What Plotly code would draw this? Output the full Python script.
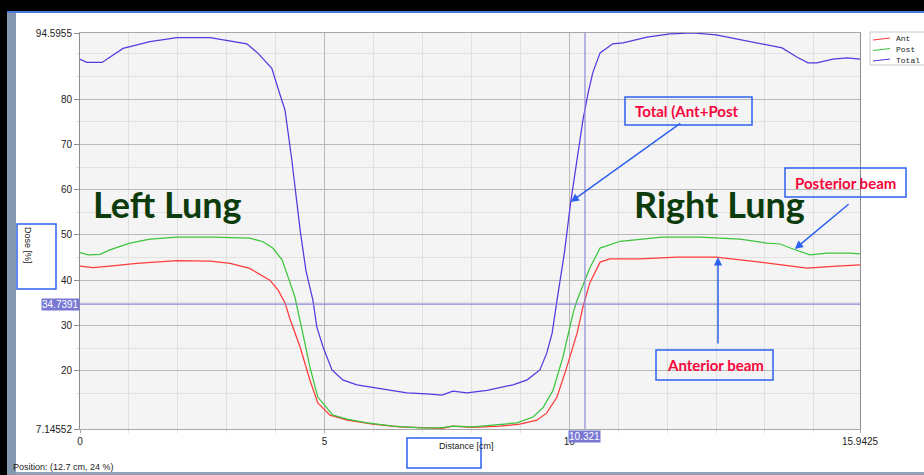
import plotly.graph_objects as go

# ---------------- data ----------------
X_MIN, X_MAX = 0.0, 15.9425
Y_MIN, Y_MAX = 7.14552, 94.5955
CURSOR_X = 10.321
CURSOR_Y = 34.7391

total_x = [0, 0.14, 0.45, 0.88, 1.43, 1.98, 2.66, 3.0, 3.41, 3.64, 3.92, 4.09, 4.19, 4.33,
           4.5, 4.62, 4.76, 4.84, 4.97, 5.15, 5.37, 5.66, 6.13, 6.68, 7.09, 7.40, 7.62, 7.91,
           8.32, 8.85, 9.14, 9.40, 9.54, 9.65, 9.75, 9.9, 10.03, 10.16, 10.28, 10.39, 10.48,
           10.63, 10.89, 11.1, 11.59, 12.06, 12.53, 13.0, 13.49, 13.96, 14.35, 14.65, 14.88,
           15.06, 15.39, 15.68, 15.9425]
total_y = [88.8, 88.1, 88.1, 91.2, 92.7, 93.6, 93.6, 92.9, 92.2, 90.1, 86.8, 80.9, 77.6, 66.5,
           51.0, 42.0, 35.6, 29.7, 25.2, 20.2, 18.0, 16.9, 16.0, 15.1, 14.9, 14.65, 15.5, 15.1,
           15.7, 16.9, 18.0, 20.2, 23.9, 28.3, 35.6, 46.0, 57.3, 66.5, 75.4, 81.6, 85.8,
           90.2, 92.2, 92.4, 93.7, 94.4, 94.6, 94.2, 93.1, 92.2, 91.3, 89.3, 88.0,
           88.0, 88.8, 89.1, 88.8]

post_x = [0, 0.17, 0.41, 0.61, 1.02, 1.43, 1.98, 2.70, 3.47, 3.74, 3.94, 4.13, 4.25, 4.39,
          4.54, 4.70, 4.86, 5.17, 5.46, 5.87, 6.40, 6.95, 7.36, 7.62, 8.03, 8.52, 8.93, 9.26,
          9.46, 9.67, 9.87, 10.08, 10.16, 10.42, 10.63, 11.04, 11.9, 12.67, 13.08, 13.49,
          14.04, 14.31, 14.57, 14.92, 15.27, 15.74, 15.9425]
post_y = [46.1, 45.6, 45.7, 46.7, 48.2, 49.1, 49.5, 49.5, 49.3, 48.5, 47.1, 44.5, 40.8, 36.4,
          29.0, 20.8, 14.2, 10.2, 9.35, 8.5, 7.8, 7.4, 7.4, 7.8, 7.6, 8.0, 8.5, 9.8,
          11.8, 15.7, 23.0, 32.8, 35.6, 42.7, 47.1, 48.6, 49.5, 49.5, 49.3, 49.1,
          48.2, 48.0, 46.9, 45.6, 46.0, 46.0, 45.8]

ant_x = [0, 0.27, 0.61, 1.16, 1.98, 2.66, 3.07, 3.47, 3.88, 4.05, 4.19, 4.29, 4.50, 4.70,
         4.86, 5.11, 5.46, 5.99, 6.54, 7.09, 7.40, 7.62, 8.03, 8.58, 8.99, 9.34, 9.54, 9.75,
         9.95, 10.16, 10.28, 10.42, 10.63, 10.83, 11.45, 12.2, 13.0, 13.9, 14.86, 15.47, 15.9425]
ant_y = [43.1, 42.8, 43.1, 43.7, 44.3, 44.2, 43.7, 42.6, 40.0, 37.8, 35.0, 31.5, 25.2, 17.9,
         12.9, 10.2, 9.1, 8.2, 7.6, 7.4, 7.3, 7.8, 7.5, 7.8, 8.2, 9.1, 10.7, 14.2,
         20.8, 28.3, 34.1, 39.4, 44.0, 44.7, 44.7, 45.1, 45.1, 44.0, 42.7, 43.1, 43.4]

series_names = ["Ant", "Post", "Total"]
series_colors = ["#ff3b3b", "#3cc43c", "#5a36e0"]

x_ticks = [0, 5, 10, 15.9425]
x_ticktext = ["0", "5", "10", "15.9425"]
x_minor = [1, 2, 3, 4, 6, 7, 8, 9, 11, 12, 13, 14, 15]
y_ticks = [7.14552, 20, 30, 40, 50, 60, 70, 80, 94.5955]
y_ticktext = ["7.14552", "20", "30", "40", "50", "60", "70", "80", "94.5955"]
y_minor = [15, 25, 35, 45, 55, 65, 75, 85, 90]

# ---------------- layout helpers ----------------
W, H = 924, 475
L, R, T, B = 80, 64, 33, 46
PW, PH = W - L - R, H - T - B


def px(x):
    return (x - L) / PW


def py(y):
    return (H - B - y) / PH


fig = go.Figure()
for name, xs, ys, col in zip(series_names, [ant_x, post_x, total_x], [ant_y, post_y, total_y],
                             series_colors):
    fig.add_trace(go.Scatter(x=xs, y=ys, mode="lines", name=name,
                             line=dict(color=col, width=1.25)))

BLUE = "#2d62ef"
RED = "#f5063c"
shapes = []
# window frame
shapes.append(dict(type="rect", xref="paper", yref="paper", x0=px(0), x1=px(924), y0=py(0), y1=py(11),
                   fillcolor="black", line_width=0, layer="above"))
shapes.append(dict(type="rect", xref="paper", yref="paper", x0=px(0), x1=px(924), y0=py(11), y1=py(13),
                   fillcolor="#4a78d8", line_width=0, layer="above"))
shapes.append(dict(type="rect", xref="paper", yref="paper", x0=px(0), x1=px(7), y0=py(0), y1=py(475),
                   fillcolor="black", line_width=0, layer="above"))
shapes.append(dict(type="rect", xref="paper", yref="paper", x0=px(7), x1=px(16), y0=py(13), y1=py(475),
                   fillcolor="#8499b0", line_width=0, layer="above"))
shapes.append(dict(type="rect", xref="paper", yref="paper", x0=px(16), x1=px(924), y0=py(472), y1=py(475),
                   fillcolor="#8fa2b6", line_width=0, layer="above"))
# cursor lines
shapes.append(dict(type="line", xref="paper", yref="y", x0=0, x1=1, y0=CURSOR_Y, y1=CURSOR_Y,
                   line=dict(color="#8a8ad8", width=1.2)))
shapes.append(dict(type="line", xref="x", yref="paper", x0=CURSOR_X, x1=CURSOR_X, y0=0, y1=1,
                   line=dict(color="#8a8ad8", width=1.2)))
# blue outline boxes
for (x0, y0, x1, y1) in [(17, 224, 56, 289), (407, 438, 481, 468),
                         (625, 97, 752, 125), (785, 168, 906, 197), (656, 350, 773, 380)]:
    shapes.append(dict(type="rect", xref="paper", yref="paper", x0=px(x0), x1=px(x1),
                       y0=py(y1), y1=py(y0), line=dict(color=BLUE, width=1.5), layer="above"))

ann = []
LBL = dict(family="Liberation Sans, Arial", size=10, color="#222")
SMALL = dict(family="Liberation Sans, Arial", size=9, color="#222")

# legend (box, keys, labels)
shapes.append(dict(type="rect", xref="paper", yref="paper", x0=px(870), x1=px(930),
                   y0=py(65), y1=py(32), fillcolor="white", line=dict(color="#c8c8c8", width=1)))
for i, (name, col) in enumerate(zip(series_names, series_colors)):
    yy = 39 + 10.5 * i
    shapes.append(dict(type="line", xref="paper", yref="paper", x0=px(873), x1=px(890),
                       y0=py(yy + 1), y1=py(yy - 1), line=dict(color=col, width=1.2)))
    ann.append(dict(xref="paper", yref="paper", x=px(894), y=py(yy), xanchor="left",
                    yanchor="middle", text=name, showarrow=False,
                    font=dict(family="Liberation Mono, DejaVu Sans Mono", size=8, color="#222")))

# cursor value labels
ann.append(dict(xref="paper", yref="y", x=0, y=CURSOR_Y, xanchor="right", yanchor="middle",
                text="34.7391", showarrow=False, bgcolor="#7878d4",
                font=dict(family="Liberation Sans, Arial", size=10, color="white"), borderpad=0))
ann.append(dict(xref="x", yref="paper", x=CURSOR_X, y=py(430), xanchor="center", yanchor="top",
                text="10.321", showarrow=False, bgcolor="#7878d4",
                font=dict(family="Liberation Sans, Arial", size=10, color="white"), borderpad=0))
# axis titles
ann.append(dict(xref="paper", yref="paper", x=px(28), y=py(245), xanchor="center", yanchor="middle",
                text="Dose [%]", textangle=90, showarrow=False, font=SMALL))
ann.append(dict(xref="paper", yref="paper", x=px(466), y=py(446), xanchor="center", yanchor="middle",
                text="Distance [cm]", showarrow=False, font=SMALL))
ann.append(dict(xref="paper", yref="paper", x=px(11), y=py(467), xanchor="left", yanchor="middle",
                text="Position: (12.7 cm, 24 %)", showarrow=False, font=SMALL))
# lung labels
LUNG = dict(family="Lato, Open Sans", size=36, color="#0c3c0c")
ann.append(dict(xref="paper", yref="paper", x=px(167), y=py(204), xanchor="center", yanchor="middle",
                text="<b>Left Lung</b>", showarrow=False, font=LUNG))
ann.append(dict(xref="paper", yref="paper", x=px(719), y=py(204), xanchor="center", yanchor="middle",
                text="<b>Right Lung</b>", showarrow=False, font=LUNG))
# callout texts
CALL = dict(family="Lato, Open Sans", size=15, color=RED)
ann.append(dict(xref="paper", yref="paper", x=px(633), y=py(111), xanchor="left", yanchor="middle",
                text="<b>Total (Ant+Post</b>", showarrow=False, font=CALL))
ann.append(dict(xref="paper", yref="paper", x=px(793), y=py(183), xanchor="left", yanchor="middle",
                text="<b>Posterior beam</b>", showarrow=False, font=CALL))
ann.append(dict(xref="paper", yref="paper", x=px(665), y=py(365), xanchor="left", yanchor="middle",
                text="<b>Anterior beam</b>", showarrow=False, font=CALL))
# arrows (head at data point, tail near the box)
for (hx, hy, tx, ty) in [(10.03, 57.3, 12.30, 74.9), (14.61, 46.9, 15.74, 57.05),
                         (13.04, 45.1, 13.04, 25.7)]:
    ann.append(dict(xref="x", yref="y", x=hx, y=hy, axref="x", ayref="y", ax=tx, ay=ty,
                    text="", showarrow=True, arrowcolor=BLUE, arrowwidth=1.5,
                    arrowhead=2, arrowsize=1.1, standoff=0, startstandoff=0))

fig.update_layout(
    width=W, height=H,
    margin=dict(l=L, r=R, t=T, b=B, pad=0, autoexpand=False),
    paper_bgcolor="white", plot_bgcolor="#f4f4f4",
    shapes=shapes, annotations=ann,
    showlegend=False,
    xaxis=dict(range=[X_MIN, X_MAX], tickmode="array", tickvals=x_ticks, ticktext=x_ticktext,
               automargin=False,
               showgrid=True, gridcolor="#b9b9b9", gridwidth=1, zeroline=False,
               showline=True, linecolor="#a8a8a8", mirror=True,
               ticks="outside", ticklen=3, tickcolor="#a8a8a8", tickfont=LBL,
               minor=dict(tickvals=x_minor, showgrid=True, gridcolor="#e0e0e0",
                          ticks="outside", ticklen=3, tickcolor="#e0e0e0")),
    yaxis=dict(range=[Y_MIN, Y_MAX], tickmode="array", tickvals=y_ticks, ticktext=y_ticktext,
               automargin=False,
               showgrid=True, gridcolor="#b9b9b9", gridwidth=1, zeroline=False,
               showline=True, linecolor="#8c8c8c", mirror=True,
               ticks="outside", ticklen=5, tickcolor="#8c8c8c", tickfont=LBL,
               minor=dict(tickvals=y_minor, showgrid=True, gridcolor="#e2e2e2",
                          ticks="outside", ticklen=3, tickcolor="#e2e2e2")),
)

fig.write_html("out.html", config={"displayModeBar": False},
               post_script="document.body.style.margin='0px';")
